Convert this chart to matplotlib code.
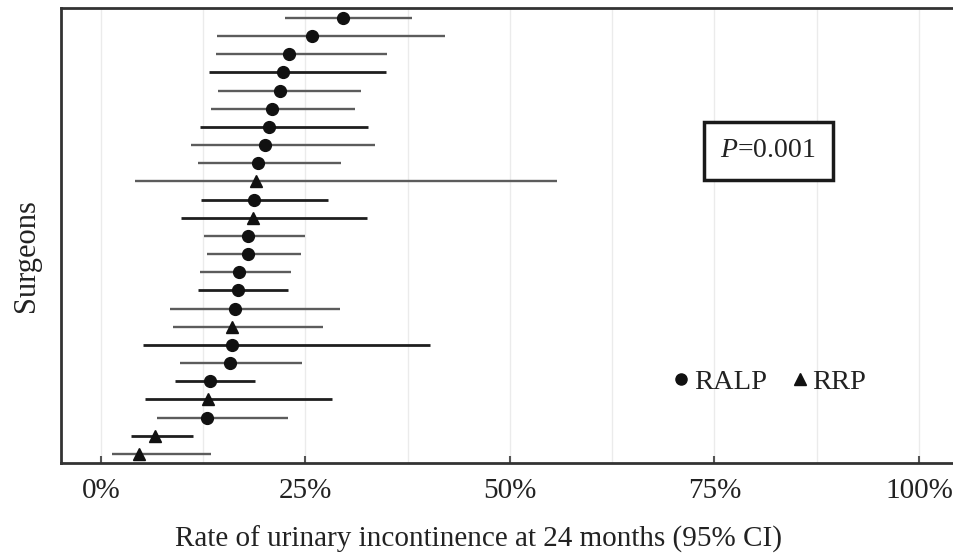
import matplotlib

matplotlib.use("Agg")
import matplotlib.pyplot as plt
from matplotlib.lines import Line2D

# per-surgeon incontinence rate at 24 months, with 95% CI (percent)
estimate = [29.6, 25.8, 23.0, 22.3, 21.9, 20.9, 20.5, 20.0, 19.2, 19.0,
            18.7, 18.6, 18.0, 18.0, 16.9, 16.7, 16.4, 16.0, 16.0, 15.8,
            13.3, 13.1, 13.0, 6.6, 4.6]
ci_lower = [22.5, 14.2, 14.1, 13.2, 14.3, 13.4, 12.1, 11.0, 11.9, 4.2,
            12.2, 9.8, 12.6, 12.9, 12.1, 11.8, 8.4, 8.8, 5.1, 9.7,
            9.1, 5.4, 6.9, 3.7, 1.4]
ci_upper = [38.0, 42.0, 35.0, 34.9, 31.8, 31.0, 32.6, 33.5, 29.3, 55.8,
            27.8, 32.5, 25.0, 24.4, 23.2, 22.9, 29.2, 27.2, 40.2, 24.6,
            18.8, 28.2, 22.9, 11.3, 13.4]
method = (["RALP"] * 9 + ["RRP", "RALP", "RRP"] + ["RALP"] * 5
          + ["RRP", "RALP", "RALP", "RALP", "RRP", "RALP", "RRP", "RRP"])
x_ticks = [0, 25, 50, 75, 100]
x_ticklabels = ["0%", "25%", "50%", "75%", "100%"]
p_value = "0.001"

# darker interval lines for some surgeons
dark_ci = [False, False, False, True, False, False, True, False, False, False,
           True, True, False, False, False, True, False, False, True, False,
           True, True, False, True, False]

plt.rcParams["font.family"] = ["Liberation Serif", "DejaVu Serif"]
plt.rcParams["mathtext.fontset"] = "custom"
plt.rcParams["mathtext.rm"] = "Liberation Serif"
plt.rcParams["mathtext.it"] = "Liberation Serif:italic"
TEXT = "#222222"

fig = plt.figure(figsize=(9.54, 5.55), dpi=100)
ax = fig.add_axes([61 / 954, 92 / 555, 893 / 954, 455 / 555])

n = len(estimate)
ypos = [n - i for i in range(n)]
markers = {"RALP": "o", "RRP": "^"}

for y, lo, hi, dark in zip(ypos, ci_lower, ci_upper, dark_ci):
    ax.plot([lo, hi], [y, y], color="#1e1e1e" if dark else "#5c5c5c",
            lw=2.0 if dark else 1.7, solid_capstyle="butt", zorder=2)

for m, mk in markers.items():
    xs = [e for e, g in zip(estimate, method) if g == m]
    ys = [y for y, g in zip(ypos, method) if g == m]
    ax.plot(xs, ys, linestyle="none", marker=mk, color="#111111",
            markersize=8.5 if mk == "o" else 9, zorder=3)

ax.set_xlim(-4.89, 104.28)
ax.set_ylim(0.5, n + 0.55)
ax.set_xticks(x_ticks)
ax.set_xticklabels(x_ticklabels)
ax.set_xticks([12.5, 37.5, 62.5, 87.5], minor=True)
ax.set_yticks([])
ax.grid(axis="x", which="both", color="#ebebeb", lw=1.0, zorder=0)
ax.set_axisbelow(True)
ax.tick_params(axis="x", which="major", direction="in", length=5, width=1.5,
               color="#555555", labelsize=21, labelcolor=TEXT, pad=11)
ax.tick_params(axis="x", which="minor", length=0)

for side in ("left", "top", "bottom"):
    ax.spines[side].set_color("#333333")
    ax.spines[side].set_linewidth(2.0)
ax.spines["right"].set_visible(False)

ax.set_xlabel("Rate of urinary incontinence at 24 months (95% CI)",
              fontsize=21, color=TEXT)
ax.xaxis.set_label_coords(0.468, -0.138)
ax.set_ylabel("Surgeons", fontsize=22, color=TEXT)
ax.yaxis.set_label_coords(-0.022, 0.457)

ax.text(0.792, 0.686, "$P$=" + p_value, transform=ax.transAxes,
        ha="center", va="center", fontsize=20, color=TEXT,
        bbox=dict(boxstyle="square,pad=0.6", facecolor="white",
                  edgecolor="#1a1a1a", linewidth=2.5))

handles = [Line2D([], [], linestyle="none", marker=markers[m], color="#111111",
                  markersize=8 if m == "RALP" else 9, label=m)
           for m in ("RALP", "RRP")]
ax.legend(handles=handles, loc="center", bbox_to_anchor=(0.794, 0.178),
          ncol=2, frameon=False, fontsize=20.5, handlelength=0.5,
          handletextpad=0.2, columnspacing=0.9, labelcolor=TEXT)

fig.savefig("out.png", dpi=100)
